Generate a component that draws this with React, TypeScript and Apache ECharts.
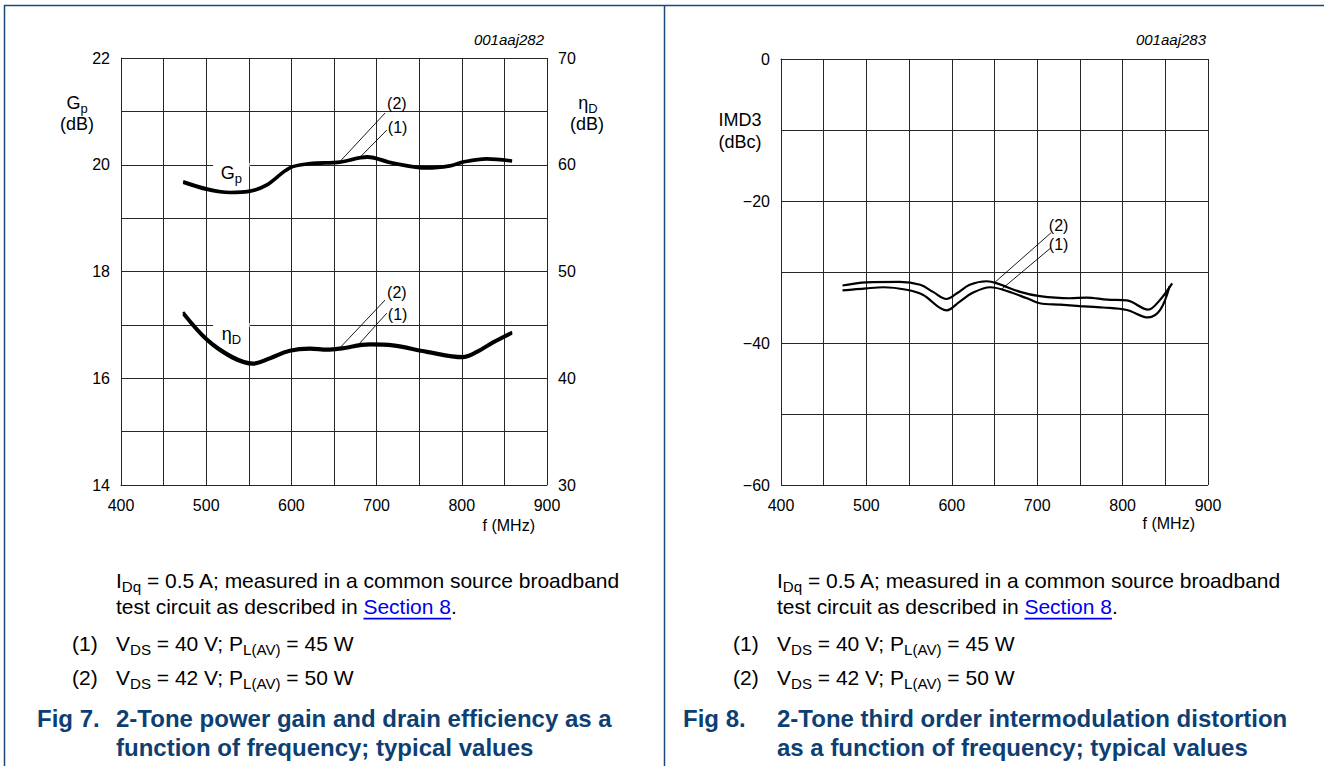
import React, { useEffect, useRef } from 'react';
import * as echarts from 'echarts';

const FAM = '"Liberation Sans", Arial, Helvetica, sans-serif';
const INK = '#000000';
const GRID = '#262626';
const NAVY = '#0d3f73';
const FRAME = '#1b4a78';
const LINK = '#0000ee';

// ---- Fig 7 data ----
const FREQ_GP = [473, 500, 528, 550, 571, 598, 622, 657, 689, 719, 759, 786, 801, 829, 859];
const GP_1 = [19.66, 19.53, 19.47, 19.49, 19.61, 19.93, 20.01, 20.04, 20.13, 20.02, 19.93, 19.97, 20.04, 20.10, 20.06];
const GP_2 = [19.69, 19.56, 19.49, 19.51, 19.63, 19.95, 20.03, 20.06, 20.16, 20.04, 19.95, 19.99, 20.06, 20.12, 20.08];

const FREQ_ETA = [473, 501, 530, 555, 575, 598, 622, 642, 657, 692, 719, 759, 801, 818, 837, 859];
const ETA_1 = [46.0, 43.5, 41.9, 41.3, 41.8, 42.5, 42.7, 42.6, 42.7, 43.1, 43.0, 42.4, 41.9, 42.4, 43.3, 44.2];
const ETA_2 = [46.2, 43.7, 42.1, 41.45, 41.95, 42.65, 42.85, 42.75, 42.85, 43.25, 43.15, 42.55, 42.05, 42.55, 43.45, 44.35];

// ---- Fig 8 data ----
const FREQ_IMD_1 = [472, 500, 520, 547, 566, 594, 609, 625, 645, 660, 688, 703, 727, 750, 777, 805, 830, 844, 855];
const IMD_1 = [-32.6, -32.3, -32.15, -32.5, -33.2, -35.4, -34.2, -32.9, -32.15, -32.5, -33.7, -34.4, -34.6, -34.8, -35.0, -35.35, -36.4, -35.35, -32.0];
const FREQ_IMD_2 = [472, 500, 539, 563, 578, 594, 606, 621, 641, 653, 680, 703, 738, 758, 782, 805, 830, 844, 858];
const IMD_2 = [-31.9, -31.45, -31.4, -31.8, -32.8, -33.8, -33.0, -31.8, -31.3, -31.6, -32.8, -33.4, -33.7, -33.6, -33.9, -34.0, -35.3, -33.9, -31.6];

const X_MIN = 400;
const X_MAX = 900;

const zip = (xs: number[], ys: number[]) => xs.map((x, i) => [x, ys[i]]);

let measureCtx: CanvasRenderingContext2D | null = null;
function tw(text: string, size: number, weight = 'normal') {
  if (!measureCtx) measureCtx = document.createElement('canvas').getContext('2d');
  measureCtx!.font = `${weight} ${size}px ${FAM}`;
  return measureCtx!.measureText(text).width;
}

type Part = [string, 'n' | 's' | 'l'];
function textLine(x: number, y: number, parts: Part[], size: number, color = INK, weight = 'normal', align: 'left' | 'center' = 'left') {
  const els: any[] = [];
  const widths = parts.map(([t, k]) => tw(t, k === 's' ? size * 0.72 : size, weight));
  const total = widths.reduce((a, b) => a + b, 0);
  let cx = align === 'center' ? x - total / 2 : x;
  parts.forEach(([t, k], i) => {
    const sub = k === 's';
    const fs = sub ? size * 0.72 : size;
    els.push({
      type: 'text',
      x: cx,
      y: y + (sub ? size * 0.3 : 0),
      z: 20,
      silent: true,
      style: {
        text: t,
        fontSize: fs,
        fontFamily: FAM,
        fontWeight: weight,
        fill: k === 'l' ? LINK : color,
        align: 'left',
        verticalAlign: 'middle',
      },
    });
    if (k === 'l') {
      els.push({
        type: 'line',
        z: 20,
        silent: true,
        shape: { x1: cx, y1: y + size * 0.6, x2: cx + widths[i], y2: y + size * 0.6 },
        style: { stroke: LINK, lineWidth: 1.6 },
      });
    }
    cx += widths[i];
  });
  return els;
}

function plainText(x: number, y: number, text: string, size: number, align = 'left', extra: any = {}) {
  return {
    type: 'text',
    x,
    y,
    z: 20,
    silent: true,
    style: { text, fontSize: size, fontFamily: FAM, fill: INK, align, verticalAlign: 'middle', ...extra },
  };
}

function xAxisCfg(gridIndex: number) {
  return {
    type: 'value',
    gridIndex,
    min: X_MIN,
    max: X_MAX,
    interval: 100,
    axisLine: { show: true, lineStyle: { color: GRID, width: 1 } },
    axisTick: { show: false },
    axisLabel: { color: INK, fontSize: 16, fontFamily: FAM, margin: 12 },
    splitLine: { show: true, lineStyle: { color: GRID, width: 1 } },
    minorTick: { show: false, splitNumber: 2 },
    minorSplitLine: { show: true, lineStyle: { color: GRID, width: 1 } },
  };
}

const minus = (v: number) => (v < 0 ? '\u2212' + Math.abs(v) : String(v));

export default function App() {
  const ref = useRef<HTMLDivElement>(null);

  useEffect(() => {
    document.body.style.margin = '0';
    const chart = echarts.init(ref.current!, null, { renderer: 'svg' });

    const lineSeries = (name: string, data: number[][], xi: number, yi: number, width: number) => ({
      name,
      type: 'line',
      xAxisIndex: xi,
      yAxisIndex: yi,
      data,
      smooth: 0.35,
      showSymbol: false,
      symbol: 'none',
      lineStyle: { color: INK, width },
      z: 5,
    });

    chart.setOption({
      animation: false,
      backgroundColor: '#ffffff',
      textStyle: { fontFamily: FAM },
      grid: [
        { left: 121, top: 58, width: 426, height: 427 },
        { left: 781, top: 59, width: 427, height: 426 },
      ],
      xAxis: [xAxisCfg(0), xAxisCfg(1)],
      yAxis: [
        {
          type: 'value',
          gridIndex: 0,
          position: 'left',
          min: 14,
          max: 22,
          interval: 2,
          axisLine: { show: true, lineStyle: { color: GRID } },
          axisTick: { show: false },
          axisLabel: { color: INK, fontSize: 16, fontFamily: FAM, margin: 11 },
          splitLine: { show: true, lineStyle: { color: GRID, width: 1 } },
          minorTick: { show: false, splitNumber: 2 },
          minorSplitLine: { show: true, lineStyle: { color: GRID, width: 1 } },
        },
        {
          type: 'value',
          gridIndex: 0,
          position: 'right',
          min: 30,
          max: 70,
          interval: 10,
          axisLine: { show: false },
          axisTick: { show: false },
          axisLabel: { color: INK, fontSize: 16, fontFamily: FAM, margin: 11 },
          splitLine: { show: false },
        },
        {
          type: 'value',
          gridIndex: 1,
          position: 'left',
          min: -60,
          max: 0,
          interval: 20,
          axisLine: { show: true, lineStyle: { color: GRID } },
          axisTick: { show: false },
          axisLabel: { color: INK, fontSize: 16, fontFamily: FAM, margin: 11, formatter: minus },
          splitLine: { show: true, lineStyle: { color: GRID, width: 1 } },
          minorTick: { show: false, splitNumber: 2 },
          minorSplitLine: { show: true, lineStyle: { color: GRID, width: 1 } },
        },
      ],
      series: [
        lineSeries('Gp (1)', zip(FREQ_GP, GP_1), 0, 0, 2.6),
        lineSeries('Gp (2)', zip(FREQ_GP, GP_2), 0, 0, 2.6),
        lineSeries('ηD (1)', zip(FREQ_ETA, ETA_1), 0, 1, 2.6),
        lineSeries('ηD (2)', zip(FREQ_ETA, ETA_2), 0, 1, 2.6),
        lineSeries('IMD3 (1)', zip(FREQ_IMD_1, IMD_1), 1, 2, 2.2),
        lineSeries('IMD3 (2)', zip(FREQ_IMD_2, IMD_2), 1, 2, 2.2),
      ],
    });

    const px = (si: number, x: number, y: number) => chart.convertToPixel({ seriesIndex: si }, [x, y]) as number[];

    const leader = (from: number[], to: number[]) => ({
      type: 'line',
      z: 20,
      silent: true,
      shape: { x1: from[0], y1: from[1], x2: to[0], y2: to[1] },
      style: { stroke: INK, lineWidth: 0.9 },
    });

    const g: any[] = [];

    // frame
    const fr = (x1: number, y1: number, x2: number, y2: number) => ({
      type: 'line', z: 30, silent: true, shape: { x1, y1, x2, y2 }, style: { stroke: FRAME, lineWidth: 1.5 },
    });
    g.push(fr(4, 5.5, 1324, 5.5), fr(4.5, 5, 4.5, 766), fr(664.5, 5, 664.5, 766));

    // ---- Fig 7 decorations ----
    g.push(plainText(544, 39, '001aaj282', 15, 'right', { fontStyle: 'italic' }));
    g.push(...textLine(77, 103, [['G', 'n'], ['p', 's']], 18, INK, 'normal', 'center'));
    g.push(plainText(77, 124, '(dB)', 18, 'center'));
    g.push(...textLine(588, 103, [['η', 'n'], ['D', 's']], 18, INK, 'normal', 'center'));
    g.push(plainText(587, 124, '(dB)', 18, 'center'));
    g.push(plainText(535, 525, 'f (MHz)', 16, 'right'));

    // in-plot curve labels with white knock-out on gridline
    const gpA = px(0, 508, 20);
    const gpB = px(0, 551, 20);
    g.push({ type: 'rect', z: 3, silent: true, shape: { x: gpA[0], y: gpA[1] - 2, width: gpB[0] - gpA[0], height: 4 }, style: { fill: '#fff' } });
    g.push(...textLine((gpA[0] + gpB[0]) / 2, gpA[1] + 8, [['G', 'n'], ['p', 's']], 18, INK, 'normal', 'center'));
    const etA = px(2, 508, 45);
    const etB = px(2, 551, 45);
    g.push({ type: 'rect', z: 3, silent: true, shape: { x: etA[0], y: etA[1] - 2, width: etB[0] - etA[0], height: 4 }, style: { fill: '#fff' } });
    g.push(...textLine((etA[0] + etB[0]) / 2, etA[1] + 9, [['η', 'n'], ['D', 's']], 18, INK, 'normal', 'center'));

    // (2)/(1) leaders on Gp
    const gpT2 = px(0, 657, 20.06);
    const gpT1 = px(0, 678, 20.1);
    const gpL2 = px(0, 710, 20.97);
    const gpL1 = px(0, 712, 20.65);
    g.push(leader(gpL2, gpT2), leader(gpL1, gpT1));
    g.push(plainText(gpL2[0] + 2, gpL2[1] - 9, '(2)', 16));
    g.push(plainText(gpL1[0] + 1, gpL1[1] - 3, '(1)', 16));

    // (2)/(1) leaders on ηD
    const etT2 = px(2, 657, 42.85);
    const etT1 = px(2, 677, 43.0);
    const etL2 = px(2, 710, 47.33);
    const etL1 = px(2, 712, 46.1);
    g.push(leader(etL2, etT2), leader(etL1, etT1));
    g.push(plainText(etL2[0] + 2, etL2[1] - 8, '(2)', 16));
    g.push(plainText(etL1[0] + 1, etL1[1] + 1, '(1)', 16));

    // ---- Fig 8 decorations ----
    g.push(plainText(1206, 39, '001aaj283', 15, 'right', { fontStyle: 'italic' }));
    g.push(plainText(740, 120, 'IMD3', 18, 'center'));
    g.push(plainText(740, 142, '(dBc)', 18, 'center'));
    g.push(plainText(1195, 523, 'f (MHz)', 16, 'right'));

    const imT2 = px(5, 650, -31.5);
    const imT1 = px(4, 658, -32.45);
    const imL2 = px(5, 716, -24.5);
    const imL1 = px(4, 716, -26.6);
    g.push(leader(imL2, imT2), leader(imL1, imT1));
    g.push(plainText(imL2[0] - 2, imL2[1] - 7, '(2)', 16));
    g.push(plainText(imL1[0] - 2, imL1[1] - 3, '(1)', 16));

    // ---- captions ----
    const caption = (x0: number, numX: number, figX: number, figLabel: string, title1: string, title2: string) => {
      g.push(...textLine(x0, 580, [['I', 'n'], ['Dq', 's'], [' = 0.5 A; measured in a common source broadband', 'n']], 21));
      g.push(...textLine(x0, 606, [['test circuit as described in ', 'n'], ['Section 8', 'l'], ['.', 'n']], 21));
      g.push(...textLine(numX, 643, [['(1)', 'n']], 21));
      g.push(...textLine(x0, 643, [['V', 'n'], ['DS', 's'], [' = 40 V; P', 'n'], ['L(AV)', 's'], [' = 45 W', 'n']], 21));
      g.push(...textLine(numX, 677, [['(2)', 'n']], 21));
      g.push(...textLine(x0, 677, [['V', 'n'], ['DS', 's'], [' = 42 V; P', 'n'], ['L(AV)', 's'], [' = 50 W', 'n']], 21));
      g.push(...textLine(figX, 718, [[figLabel, 'n']], 24, NAVY, 'bold'));
      g.push(...textLine(x0, 718, [[title1, 'n']], 24, NAVY, 'bold'));
      g.push(...textLine(x0, 747, [[title2, 'n']], 24, NAVY, 'bold'));
    };
    caption(116, 72, 37, 'Fig 7.', '2-Tone power gain and drain efficiency as a', 'function of frequency; typical values');
    caption(777, 733, 683, 'Fig 8.', '2-Tone third order intermodulation distortion', 'as a function of frequency; typical values');

    chart.setOption({ graphic: g });

    return () => chart.dispose();
  }, []);

  return <div ref={ref} style={{ width: 1324, height: 766 }} />;
}
